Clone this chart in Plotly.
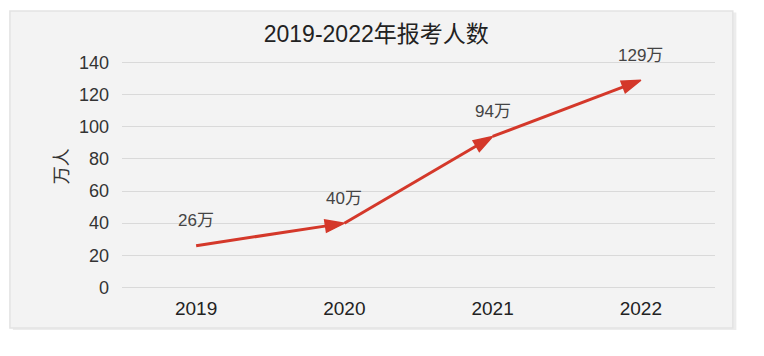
import plotly.graph_objects as go

years = ["2019", "2020", "2021", "2022"]
values = [26, 40, 94, 129]
labels = ["26万", "40万", "94万", "129万"]
y_ticks = [0, 20, 40, 60, 80, 100, 120, 140]
title_text = "2019-2022年报考人数"
y_title = "万人"

FONT = "Liberation Sans, Arial, Noto Sans CJK SC, sans-serif"
RED = "#d4382a"

fig = go.Figure()
fig.add_trace(go.Scatter(
    x=years, y=values,
    mode="lines+markers",
    line=dict(color=RED, width=3),
    marker=dict(symbol=["circle"] + ["arrow"] * 3,
                size=[0, 20, 20, 20], color=RED, angleref="previous",
                opacity=1, line=dict(width=1.5, color=RED)),
    cliponaxis=False,
    hoverinfo="skip",
))

annotations = [dict(x=i, y=yv, text=t, xref="x", yref="y", showarrow=False,
                    yshift=25, font=dict(size=17, color="#444444", family=FONT))
               for i, (yv, t) in enumerate(zip(values, labels))]
annotations.append(dict(text=y_title, xref="paper", yref="paper", x=-0.121, y=0.54,
                        textangle=-90, showarrow=False,
                        font=dict(size=18, color="#333333", family=FONT)))

fig.update_layout(
    width=764, height=356,
    margin=dict(l=114, r=57, t=53, b=75),
    paper_bgcolor="white",
    plot_bgcolor="rgba(0,0,0,0)",
    showlegend=False,
    font=dict(family=FONT, color="#333333"),
    title=dict(text=title_text, x=0.482, y=0.926, xanchor="center", yanchor="middle",
               font=dict(size=23, color="#222222", family=FONT)),
    xaxis=dict(type="category", range=[-0.5, 3.5], showgrid=False, showline=False,
               zeroline=False, ticks="", tickfont=dict(size=19, color="#222222"),
               ticklabelstandoff=6),
    yaxis=dict(range=[-1, 141], tickvals=y_ticks, showgrid=True, gridcolor="#d9d9d9",
               gridwidth=1, zeroline=False, showline=False, ticks="",
               tickfont=dict(size=18, color="#333333"), ticklabelstandoff=12),
    shapes=[
        dict(type="rect", xref="paper", yref="paper", x0=-0.184, x1=1.036,
             y0=-0.180, y1=1.213, fillcolor="#ececec",
             line=dict(width=0), layer="below"),
        dict(type="rect", xref="paper", yref="paper", x0=-0.189, x1=1.030,
             y0=-0.171, y1=1.219, fillcolor="#f3f3f3",
             line=dict(color="#e3e3e3", width=1.5), layer="below"),
    ],
    annotations=annotations,
)

fig.write_html("out.html")
